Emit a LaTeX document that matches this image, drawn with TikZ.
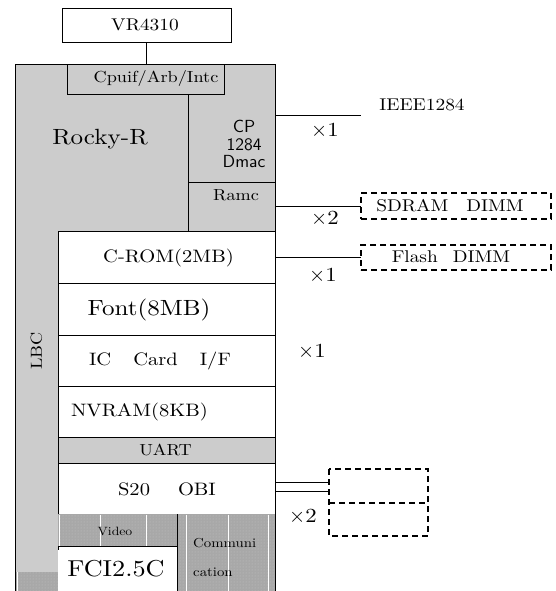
\documentclass[tikz,border=0pt]{standalone}
\usepackage{fontspec}
\setmainfont{lmroman10-regular.otf}[FakeStretch=1.14]
\setsansfont{lmsans10-regular.otf}
\usetikzlibrary{patterns}
\definecolor{lgray}{HTML}{CCCCCC}
\definecolor{pgray}{HTML}{A8A8A8}
\definecolor{pdot}{HTML}{C4C4C4}
\newcommand{\fs}[1]{\fontsize{#1}{#1}\selectfont}
\newcommand{\tms}[1]{{\fs{20}$\times$#1}}
\tikzset{
  blk/.style={draw=black, line width=1pt, inner sep=0pt, outer sep=0pt},
  gbox/.style={blk, fill=lgray},
  wbox/.style={blk, fill=white},
  dbox/.style={draw=black, line width=1.5pt, dash pattern=on 6pt off 4pt},
  pat/.style={fill=pgray, postaction={pattern=dots, pattern color=pdot}},
  wline/.style={draw=white, line width=0.8pt},
  conn/.style={draw=black, line width=1pt},
  lbl/.style={inner sep=0pt, text=black},
}
\begin{document}
\begin{tikzpicture}[x=1pt,y=-1pt]
\useasboundingbox (0,0) rectangle (556,591);
\fill[white] (0,0) rectangle (556,591);
% VR4310
\node[wbox, minimum width=169pt, minimum height=34pt] (vr) at (146.5,26) {};
\node[lbl, font=\fs{17}] (vrt) at (145,25) {VR4310};
% Rocky-R block
\node[gbox, minimum width=260pt, minimum height=166pt] (rocky) at (145,148) {};
\node[gbox, minimum width=157pt, minimum height=30pt] (cpuif) at (145.5,80) {};
\node[lbl, font=\fs{16}] (cpuift) at (156,79) {Cpuif/Arb/Intc};
\draw[conn] (vr.south) -- (vr.south |- rocky.north);
\coordinate (dv1) at (188,95);
\coordinate (dv2) at (188,231);
\coordinate (dh1) at (188,182);
\draw[conn] (dv1) -- (dv2);
\draw[conn] (dh1) -- (dh1 -| rocky.east);
\node[lbl, font=\fs{22}] (rockyt) at (100,139) {Rocky-R};
\node[lbl, font=\sffamily\fs{17.5}, align=center, text depth=0pt] (cpt) at (244,144) {\fontsize{17.5}{20}\selectfont CP\\1284\\Dmac};
\node[lbl, font=\fs{16}] (ramct) at (236,195) {Ramc};
% LBC column
\fill[lgray] (15,231) rectangle (58,572);
\path[pat] (15,572) rectangle (58,591);
\draw[wline] (17,572) -- (17,591);
\node[lbl, font=\fs{16}, rotate=90] (lbct) at (36.5,351) {LBC};
% memory boxes
\node[wbox, minimum width=217pt, minimum height=52pt] (crom) at (166.5,257) {};
\node[wbox, minimum width=217pt, minimum height=52pt] (font) at (166.5,309) {};
\node[wbox, minimum width=217pt, minimum height=51pt] (iccard) at (166.5,360.5) {};
\node[wbox, minimum width=217pt, minimum height=51pt] (nvram) at (166.5,411.5) {};
\node[gbox, minimum width=217pt, minimum height=26pt] (uart) at (166.5,450) {};
\node[wbox, minimum width=217pt, minimum height=51pt] (obi) at (166.5,488.5) {};
\node[lbl, font=\fs{18}] (cromt) at (168.5,258) {C-ROM(2MB)};
\node[lbl, font=\fs{22}] (fontt) at (149,310) {Font(8MB)};
\node[lbl, font=\fs{18}] (ict) at (160,361) {IC\hspace{22pt}Card\hspace{22pt}I/F};
\node[lbl, font=\fs{18}] (nvt) at (139.5,412) {NVRAM(8KB)};
\node[lbl, font=\fs{16}] (uartt) at (165.5,450) {UART};
\node[lbl, font=\fs{18}] (obit) at (167,489) {S20\hspace{28pt}OBI};
% Video / FCI / Communication
\path[pat] (58,514) rectangle (177,546);
\path[pat] (177,514) rectangle (275,591);
\foreach \xx in {59,100,146} \draw[wline] (\xx,514.5) -- (\xx,546);
\foreach \xx in {186,228,268} \draw[wline] (\xx,514.5) -- (\xx,591);
\node[wbox, minimum width=119pt, minimum height=46pt] (fci) at (117.5,569) {};
\fill[white] (58.5,546.5) rectangle (176.5,591);
\fill[white] (57.5,550) rectangle (58.5,591);
\draw[conn] (58,546) -- (177,546);
\draw[conn] (177,514) -- (177,591);
\node[lbl, font=\fs{12}] (videot) at (115,531) {Video};
\node[lbl, font=\fs{23}] (fcit) at (116,569) {FCI2.5C};
\node[lbl, font=\fs{13}, anchor=west] (comm1) at (193,543) {Communi};
\node[lbl, font=\fs{13}, anchor=west] (comm2) at (193,572) {cation};
% outer borders
\draw[conn] (15,231) -- (15,591);
\draw[conn] (275,231) -- (275,591);
\draw[conn] (58,231) -- (58,514);
% right side: IEEE1284
\coordinate (ieee) at (361,116);
\draw[conn] (ieee -| rocky.east) -- (ieee);
\node[lbl, font=\fs{17}] (ieeet) at (422,105) {IEEE1284};
\node[lbl] (x1a) at (325,131) {\tms{1}};
% SDRAM
\node[dbox, minimum width=190pt, minimum height=26pt, inner sep=0pt, outer sep=0pt] (sdram) at (456,206) {};
\node[lbl, font=\fs{17}] (sdramt) at (450,206) {SDRAM\hspace{18pt}DIMM};
\draw[conn] (sdram.west -| rocky.east) -- (sdram.west);
\node[lbl] (x2a) at (325,219) {\tms{2}};
% Flash
\node[dbox, minimum width=190pt, minimum height=25pt, inner sep=0pt, outer sep=0pt] (flash) at (456,257.5) {};
\node[lbl, font=\fs{17}] (flasht) at (451,257) {Flash\hspace{15pt}DIMM};
\draw[conn] (flash.west -| crom.east) -- (flash.west);
\node[lbl] (x1b) at (323,276) {\tms{1}};
% IC card x1
\node[lbl] (x1c) at (312,352) {\tms{1}};
% OBI boxes
\node[minimum width=99pt, minimum height=34pt, inner sep=0pt, outer sep=0pt] (ob1) at (378.5,486) {};
\node[minimum width=99pt, minimum height=33pt, inner sep=0pt, outer sep=0pt] (ob2) at (378.5,519.5) {};
\draw[dbox] (ob1.north west) rectangle (ob2.south east);
\draw[dbox] (ob1.south west) -- (ob1.south east);
\coordinate (o1) at (330,482);
\coordinate (o2) at (330,491);
\draw[conn] (o1 -| obi.east) -- (o1);
\draw[conn] (o2 -| obi.east) -- (o2);
\node[lbl] (x2b) at (303,517) {\tms{2}};
\end{tikzpicture}
\end{document}
